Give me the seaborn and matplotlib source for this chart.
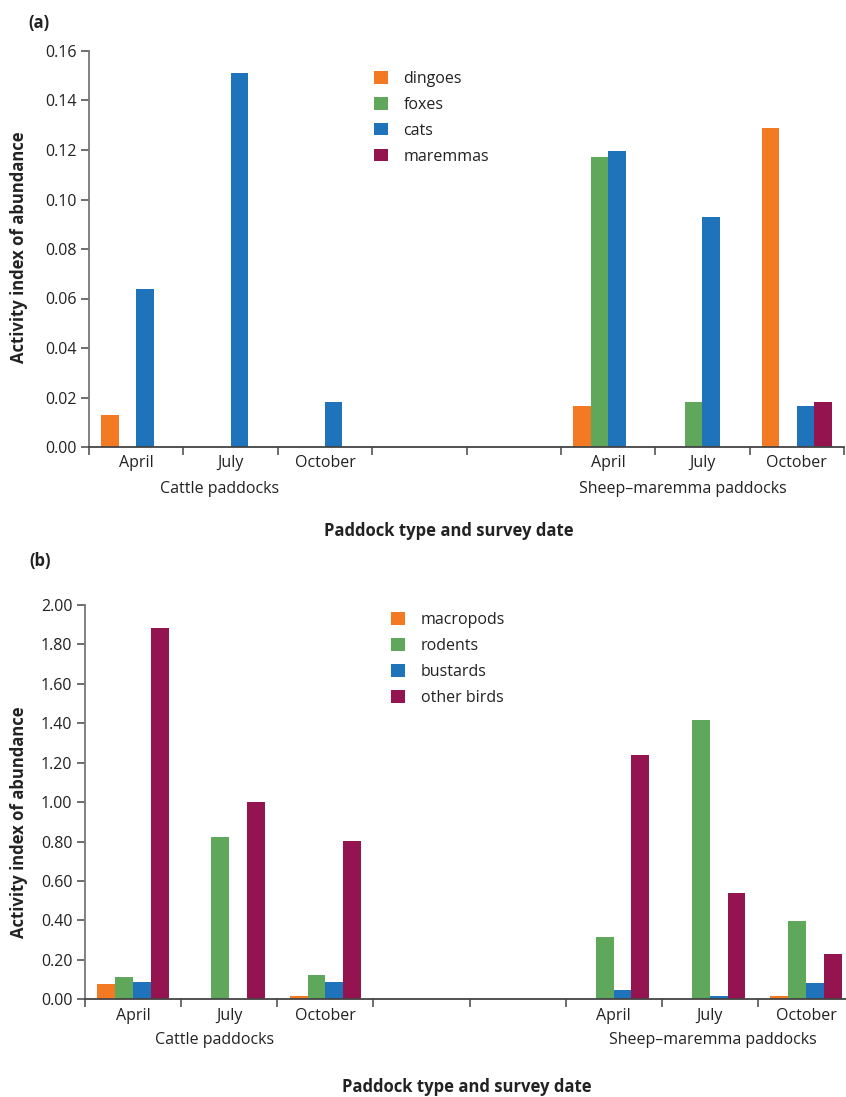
import matplotlib
matplotlib.use("Agg")
import matplotlib.pyplot as plt
import matplotlib.transforms as mtransforms
import seaborn as sns
import pandas as pd
import numpy as np

# ---------------- data ----------------
slots = ["C-April", "C-July", "C-October", "gap1", "gap2", "S-April", "S-July", "S-October"]
data_slots = ["C-April", "C-July", "C-October", "S-April", "S-July", "S-October"]
month_labels = ["April", "July", "October", "", "", "April", "July", "October"]

pred_species = ["dingoes", "foxes", "cats", "maremmas"]
dingoes = [0.013, 0.0, 0.0, 0.0167, 0.0, 0.129]
foxes = [0.0, 0.0, 0.0, 0.117, 0.0183, 0.0]
cats = [0.064, 0.151, 0.0183, 0.1196, 0.0931, 0.0167]
maremmas = [0.0, 0.0, 0.0, 0.0, 0.0, 0.0183]

prey_species = ["macropods", "rodents", "bustards", "other birds"]
macropods = [0.076, 0.0, 0.015, 0.0, 0.0, 0.015]
rodents = [0.113, 0.825, 0.122, 0.316, 1.418, 0.399]
bustards = [0.088, 0.0, 0.088, 0.049, 0.015, 0.083]
other_birds = [1.883, 1.0, 0.802, 1.239, 0.54, 0.228]

palette = ["#F37A22", "#5EA75B", "#1E73BA", "#941450"]

def long_df(species, series):
    rows = []
    for sp, vals in zip(species, series):
        for s, v in zip(data_slots, vals):
            rows.append({"slot": s, "species": sp, "value": v})
    return pd.DataFrame(rows)

df_a = long_df(pred_species, [dingoes, foxes, cats, maremmas])
df_b = long_df(prey_species, [macropods, rodents, bustards, other_birds])

# ---------------- style ----------------
sns.set_theme(style="white")
plt.rcParams["font.family"] = ["Open Sans", "DejaVu Sans"]
plt.rcParams["text.color"] = "#222222"
plt.rcParams["axes.labelcolor"] = "#222222"
plt.rcParams["xtick.color"] = "#555555"
plt.rcParams["ytick.color"] = "#555555"
plt.rcParams["xtick.labelcolor"] = "#222222"
plt.rcParams["ytick.labelcolor"] = "#222222"

W, H = 846, 1097
fig = plt.figure(figsize=(W / 100, H / 100), dpi=100)

def px_axes(l, r, top, bottom):
    return [l / W, 1 - bottom / H, (r - l) / W, (bottom - top) / H]

ax_a = fig.add_axes(px_axes(89, 844, 51, 447))
ax_b = fig.add_axes(px_axes(85, 854, 605, 999.3))

def draw(ax, df, species, ymax, yticks, group_x, group_y, legend_anchor):
    sns.barplot(data=df, x="slot", y="value", hue="species", order=slots,
                hue_order=species, palette=palette, width=0.74, linewidth=0,
                errorbar=None, saturation=1, ax=ax)
    ax.set_xlim(-0.5, len(slots) - 0.5)
    ax.set_ylim(0, ymax)
    ax.set_yticks(yticks)
    ax.set_yticklabels([f"{t:.2f}" for t in yticks], fontsize=11.5)
    # boundaries as major ticks, month labels as minor ticks
    ax.set_xticks(np.arange(len(slots) + 1) - 0.5)
    ax.set_xticklabels([])
    ax.set_xticks(np.arange(len(slots)), minor=True)
    ax.set_xticklabels(month_labels, minor=True, fontsize=11.5)
    ax.tick_params(axis="x", which="major", direction="out", length=6, width=1.2, bottom=True)
    ax.tick_params(axis="x", which="minor", length=0, pad=6)
    ax.tick_params(axis="y", which="major", direction="out", length=6, width=1.2, left=True, pad=3)
    for side in ["top", "right"]:
        ax.spines[side].set_visible(False)
    ax.spines["left"].set_color("#777777")
    ax.spines["left"].set_linewidth(1.3)
    ax.spines["bottom"].set_color("#444444")
    ax.spines["bottom"].set_linewidth(1.3)
    ax.set_xlabel("")
    ax.set_ylabel("")
    trans = mtransforms.blended_transform_factory(ax.transData, ax.transAxes)
    for gx, gtxt in group_x:
        ax.text(gx, group_y, gtxt, transform=trans, ha="center", va="top", fontsize=11.5)
    sns.move_legend(ax, loc="upper left", bbox_to_anchor=legend_anchor, frameon=False,
                    title=None, fontsize=11.5, handlelength=0.85, handleheight=0.85,
                    labelspacing=0.62, handletextpad=1.0, borderpad=0, borderaxespad=0)

draw(ax_a, df_a, pred_species, 0.16, [0, 0.02, 0.04, 0.06, 0.08, 0.10, 0.12, 0.14, 0.16],
     [(0.88, "Cattle paddocks"), (5.79, "Sheep\u2013maremma paddocks")], -0.086, (0.3775, 0.95))
draw(ax_b, df_b, prey_species, 2.0, [0, 0.2, 0.4, 0.6, 0.8, 1.0, 1.2, 1.4, 1.6, 1.8, 2.0],
     [(0.85, "Cattle paddocks"), (6.03, "Sheep\u2013maremma paddocks")], -0.083, (0.398, 0.982))

# axis titles and panel labels
fig.text(449 / W, 1 - 531 / H, "Paddock type and survey date", ha="center", va="center",
         fontsize=12, fontweight="bold")
fig.text(467 / W, 1 - 1087 / H, "Paddock type and survey date", ha="center", va="center",
         fontsize=12, fontweight="bold")
fig.text(19 / W, 1 - 247 / H, "Activity index of abundance", ha="center", va="center",
         rotation=90, fontsize=12, fontweight="bold")
fig.text(19 / W, 1 - 822 / H, "Activity index of abundance", ha="center", va="center",
         rotation=90, fontsize=12, fontweight="bold")
fig.text(28 / W, 1 - 23 / H, "(a)", ha="left", va="center", fontsize=12, fontweight="bold")
fig.text(29 / W, 1 - 561 / H, "(b)", ha="left", va="center", fontsize=12, fontweight="bold")

fig.savefig("out.png", dpi=100, facecolor="white")
